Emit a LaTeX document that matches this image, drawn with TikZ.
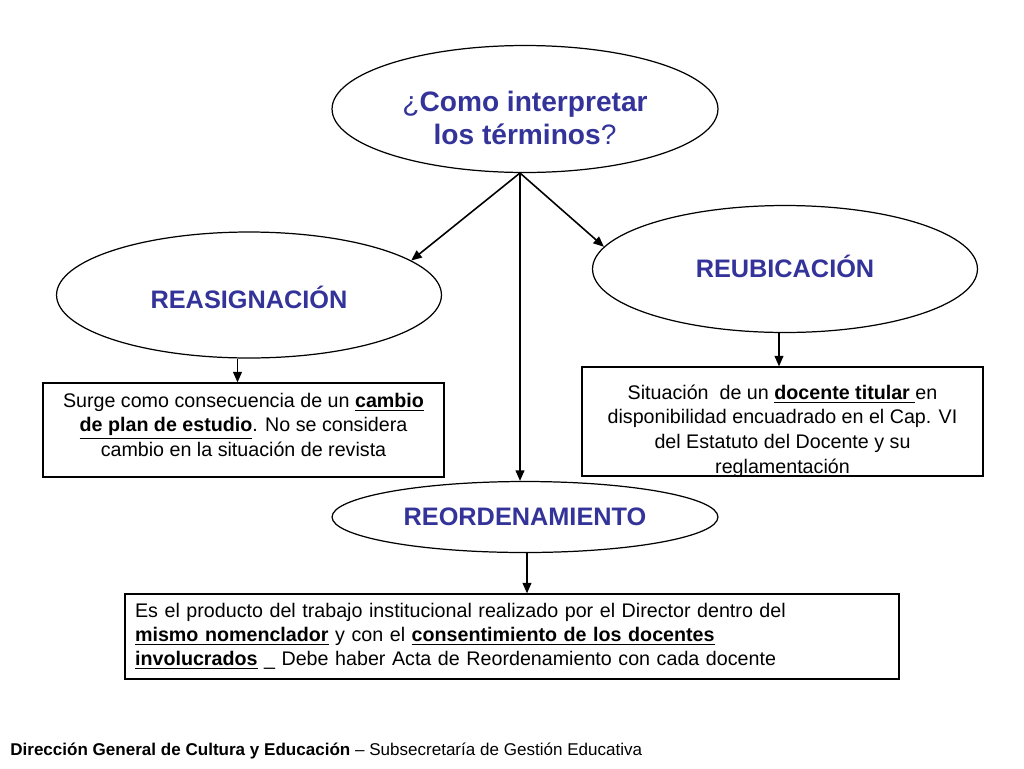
\documentclass[tikz,border=0pt]{standalone}
\usepackage{fontspec}
\setmainfont{Liberation Sans}
\usetikzlibrary{shapes.geometric,arrows.meta,calc}
\definecolor{titleblue}{RGB}{51,51,153}

\begin{document}
\begin{tikzpicture}[x=0.02cm, y=-0.02cm,
        bubble/.style={draw, ellipse, line width=0.7pt, text=titleblue, inner sep=0pt,
            font=\fontsize{14.4}{17}\selectfont\bfseries},
        textbox/.style={draw, rectangle, line width=0.7pt, inner sep=0pt, align=center,
            font=\fontsize{11.2}{13.8}\selectfont},
        arr/.style={line width=0.9pt, -{Triangle[length=6pt, width=5pt]}}]
        \useasboundingbox (0,0) rectangle (1024,768);

        % Draw ellipses
        \node[bubble, minimum width=7.72cm, minimum height=2.54cm, align=center,
            font=\fontsize{16}{18.7}\selectfont] (question) at (525,109)
            {\rule{0pt}{22pt}{\mdseries ¿}\textbf{Como interpretar}\\\textbf{los términos}{\mdseries ?}};
        \node[bubble, minimum width=7.7cm, minimum height=2.52cm] (reasig) at (249,295) {\rule{0pt}{16pt}REASIGNACIÓN};
        \node[bubble, minimum width=7.7cm, minimum height=2.54cm] (reubic) at (785,269) {\rule[-3pt]{0pt}{3pt}REUBICACIÓN};
        \node[bubble, minimum width=7.72cm, minimum height=1.42cm] (reord) at (525,517) {REORDENAMIENTO};

        % Draw boxes
        \node[textbox, minimum width=8.02cm, minimum height=1.88cm] (reasigbox) at (243.5,430)
            {Surge como consecuencia de un \underline{\textbf{cambio}}\\
             \underline{\textbf{de plan de estudio}}. No se considera\\
             cambio en la situación de revista\rule[-6pt]{0pt}{6pt}};
        \node[textbox, minimum width=8.02cm, minimum height=2.18cm] (reubicbox) at (782.5,421.5) {};
        \node[align=center, font=\fontsize{11.2}{14}\selectfont] (reubictext) at ([yshift=-0.19cm]reubicbox.center)
            {Situación\ \ de un \underline{\textbf{docente titular}~}en\\
             disponibilidad encuadrado en el Cap. VI\\
             del Estatuto del Docente y su\\
             reglamentación};
        \node[textbox, minimum width=15.48cm, minimum height=1.7cm, inner xsep=0.2cm,
            text width=15.08cm, align=left] (reordbox) at (512,636.5)
            {Es el producto del trabajo institucional realizado por el Director dentro del\\
             \underline{\textbf{mismo nomenclador}} y con el \underline{\textbf{consentimiento de los docentes}}\\
             \underline{\textbf{involucrados}} \_ Debe haber Acta de Reordenamiento con cada docente};

        % Draw arrows
        \coordinate (hub) at (520,173);
        \draw[arr] (hub) -- (reasig.12);
        \draw[arr] (hub) -- (reubic.173);
        \draw[arr] (hub) -- (hub |- reord.north);
        \draw[arr] ([xshift=-0.12cm]reasig.south -| reasigbox.north) -- ([xshift=-0.12cm]reasigbox.north);
        \draw[arr] ([xshift=-0.07cm]reubic.south -| reubicbox.north) -- ([xshift=-0.07cm]reubicbox.north);
        \draw[arr] ([xshift=0.04cm]reord.south) -- ([xshift=0.04cm]reord.south |- reordbox.north);

        % Footer
        \node[anchor=base west, inner sep=0pt, font=\fontsize{9.7}{11}\selectfont] (footer) at (10,755)
            {\textbf{Dirección General de Cultura y Educación} -- Subsecretaría de Gestión Educativa};
\end{tikzpicture}
\end{document}
